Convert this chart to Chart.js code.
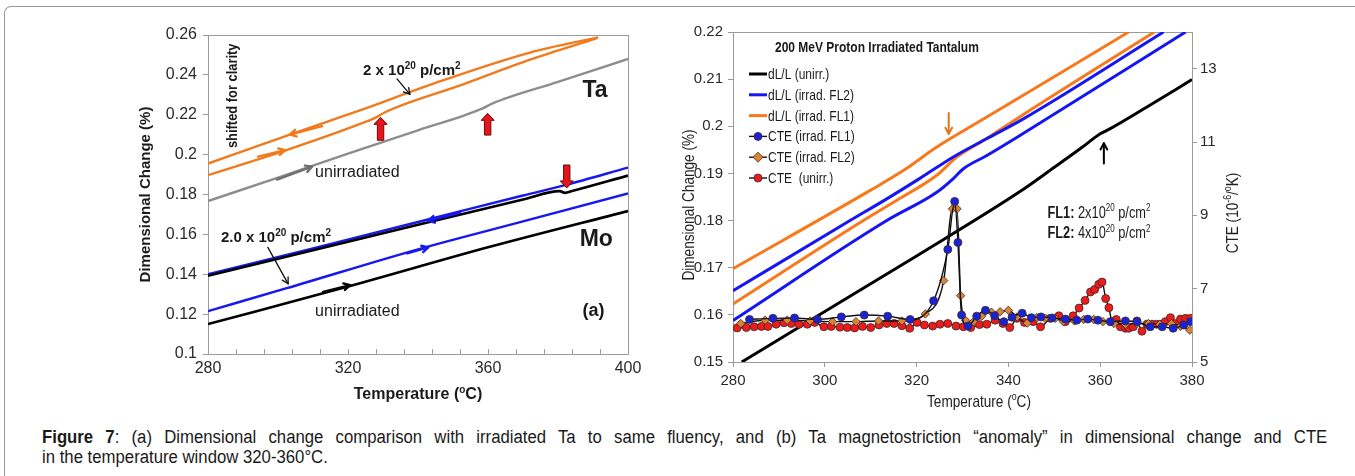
<!DOCTYPE html>
<html>
<head>
<meta charset="utf-8">
<script src="https://cdn.jsdelivr.net/npm/chart.js@4.4.1/dist/chart.umd.min.js"></script>
<style>
  body { margin: 0; width: 1355px; height: 476px; overflow: hidden; background: #fff; position: relative; }
  #frame { position: absolute; left: 4px; top: 6px; width: 1400px; height: 500px; border-top: 1px solid #9a9a9a; border-left: 1px solid #9a9a9a; border-top-left-radius: 7px; }
  #ca { position: absolute; left: 0; top: 0; }
  #cb { position: absolute; left: 660px; top: 0; }
  .cap { position: absolute; left: 42px; font: 18px/20px "Liberation Sans", Arial, sans-serif; color: #1a1a1a; white-space: nowrap; transform: scaleX(0.93); transform-origin: 0 0; }
  #cap1 { top: 427px; width: 1382px; white-space: normal; text-align: justify; text-align-last: justify; }
  #cap2 { top: 447px; }
</style>
</head>
<body>
<div id="frame"></div>
<canvas id="ca" width="660" height="410"></canvas>
<canvas id="cb" width="695" height="410"></canvas>
<div class="cap" id="cap1"><b>Figure 7</b>: (a) Dimensional change comparison with irradiated Ta to same fluency, and (b) Ta magnetostriction “anomaly” in dimensional change and CTE</div>
<div class="cap" id="cap2">in the temperature window 320-360°C.</div>
<script>
// ---- (a) dimensional change (%) vs temperature, Ta and Mo ----
const taIrrCool = [[280,0.1955],[303.4,0.2100],[324.4,0.2228],[343.4,0.2350],[372,0.2512],[391.5,0.2588]];
const taIrrHeat = [[280,0.1897],[302,0.2020],[324.4,0.2160],[328.2,0.2188],[330.3,0.2210],[352.9,0.2352],[372,0.2476],[391,0.2583]];
const taUnirr = [[280,0.1767],[300,0.1885],[320,0.2005],[340,0.2122],[358.5,0.2232],[361,0.2255],[380,0.2365],[400,0.2480]];
const moIrrCool = [[280,0.1400],[310,0.1530],[340,0.1662],[370,0.1795],[382,0.1847],[400,0.1935]];
const moUnirrCool = [[280,0.1392],[310,0.1520],[340,0.1648],[370,0.1775],[380.5,0.1817],[382,0.1808],[384,0.1817],[400,0.1895]];
const moIrrHeat = [[280,0.1215],[302.5,0.1330],[340,0.1525],[370,0.1665],[400,0.1805]];
const moUnirrHeat = [[280,0.1150],[320,0.1338],[360,0.1535],[400,0.1717]];
const tempLabelsA = [280, 320, 360, 400];

// ---- (b) 200 MeV proton irradiated Ta: dL/L (%) and CTE (1e-6/K) ----
const dlUnirr = [[281.9,0.1500],[300,0.1607],[320,0.1725],[342.6,0.1862],[350,0.1913],[356,0.1955],[360,0.1984],[362,0.1994],[370,0.2040],[380,0.2099]];
const dlFl2Up = [[280,0.1651],[305.5,0.1800],[313.5,0.1846],[320.8,0.1890],[328,0.1935],[335.3,0.1974],[342.6,0.2012],[373.8,0.2200]];
const dlFl2Low = [[280,0.1588],[313.5,0.1800],[324.4,0.1860],[328,0.1889],[330.2,0.1910],[335.3,0.1938],[342.6,0.1981],[378.6,0.2200]];
const dlFl1Up = [[280,0.1698],[309.9,0.1864],[317.1,0.1906],[324.4,0.1956],[331.7,0.1999],[342.6,0.2062],[366.2,0.2200]];
const dlFl1Low = [[280,0.1623],[308.4,0.1800],[315.7,0.1843],[324.4,0.1896],[328.8,0.1935],[335.3,0.1974],[342.6,0.2021],[371.8,0.2200]];

const cteFl1 = [[283.6,6.16],[288.7,6.19],[293.4,6.20],[298.4,6.16],[303.6,6.23],[308.6,6.28],[313.7,6.25],[318.6,6.16],
  [323.7,6.67],[326.8,8.07],[328.3,9.38],[329.0,8.26],[329.8,6.28],[331.2,5.98],[333.1,6.25],[335.0,6.41],[337.0,6.26],
  [339.0,6.10],[340.8,6.22],[343.0,6.33],[345.0,6.21],[347.1,6.23],[349.5,6.20],[352.4,6.17],[354.9,6.14],[357.3,6.17],
  [359.5,6.14],[362.2,6.10],[365.5,6.12],[368.0,6.10],[370.9,5.96],[373.5,5.96],[375.9,5.92],[378.2,6.01],[379.7,6.10]];
const cteFl2 = [[281.7,6.05],[287.0,6.14],[291.8,6.14],[296.8,6.12],[301.7,6.10],[306.8,6.10],[311.7,6.12],[316.8,6.12],
  [321.9,6.31],[325.9,7.22],[327.8,9.18],[328.8,9.18],[329.6,6.81],[330.7,6.13],[332.4,6.10],[334.2,6.25],[336.3,6.36],
  [338.2,6.37],[340.0,6.41],[341.9,6.23],[344.1,6.06],[346.2,6.21],[348.0,6.19],[350.2,6.19],[352.0,6.10],[354.4,6.12],
  [356.4,6.16],[358.6,6.16],[360.6,6.10],[363.0,6.05],[365.5,6.03],[368.0,6.05],[370.5,6.05],[373.0,6.03],[375.5,6.05],
  [377.5,5.97],[379.5,5.87]];
const cteUnirr = [[280.9,5.93],[282.9,5.94],[284.6,5.96],[286.2,5.97],[287.6,5.97],[289.4,6.03],[291.1,6.07],[292.7,6.05],
  [294.4,6.03],[296.2,6.03],[297.8,6.08],[299.8,5.96],[301.4,5.97],[303.3,5.95],[304.9,5.94],[306.5,5.93],[308.2,5.97],
  [310.0,5.94],[311.8,6.01],[313.5,6.05],[315.1,6.05],[316.8,5.99],[318.5,5.92],[320.1,6.08],[321.7,6.01],[323.5,5.98],
  [325.1,6.03],[326.8,6.05],[328.6,5.98],[330.2,5.96],[331.8,5.94],[333.7,6.02],[335.3,6.03],[337.1,6.14],[338.8,6.05],
  [340.3,5.94],[341.9,6.19],[343.5,6.08],[345.4,6.10],[347.0,5.96],[349.1,6.19],[351.0,6.26],[352.4,6.10],[354.1,6.26],
  [355.4,6.47],[356.7,6.68],[357.9,6.91],[358.8,6.98],[359.7,7.12],[360.4,7.18],[361.2,6.73],[361.9,6.48],[362.6,6.10],
  [363.5,6.16],[364.4,5.96],[365.5,5.92],[366.2,5.92],[367.2,5.96],[368.0,6.12],[369.1,5.84],[370.2,6.03],[371.3,6.03],
  [372.3,6.03],[373.3,6.03],[374.2,6.10],[375.3,6.21],[376.4,6.05],[377.5,6.17],[378.6,6.19],[379.7,6.19]];
const cteTicks = [5, 7, 9, 11, 13];
const legendLabels = ['dL/L (unirr.)', 'dL/L (irrad. FL2)', 'dL/L (irrad. FL1)', 'CTE (irrad. FL1)', 'CTE (irrad. FL2)', 'CTE  (unirr.)'];

const fam = '"Liberation Sans", Arial, sans-serif';
Chart.defaults.font.family = fam;
Chart.defaults.color = '#2a2a2a';

const pts = a => a.map(([x, y]) => ({x, y}));
const fmt = v => String(+(+v).toFixed(2));

function lineDs(arr, color, w, extra) {
  return Object.assign({data: pts(arr), borderColor: color, borderWidth: w, pointRadius: 0,
    cubicInterpolationMode: 'monotone', fill: false}, extra || {});
}

// text with ^superscript and *bold parts; sx < 1 squeezes it like a narrow face
function rich(ctx, parts, x, y, size, sx, bold, align, color) {
  const segs = parts.map(p => {
    let t = p, b = bold, sup = false;
    if (t[0] === '*') { b = true; t = t.slice(1); }
    if (t[0] === '^') { sup = true; t = t.slice(1); }
    const font = (b ? 'bold ' : '') + (sup ? Math.round(size * 0.64) : size) + 'px ' + fam;
    ctx.font = font;
    return {t, sup, font, w: ctx.measureText(t).width};
  });
  const total = segs.reduce((s, g) => s + g.w, 0);
  let cx = align === 'center' ? -total / 2 : align === 'right' ? -total : 0;
  ctx.save();
  ctx.translate(x, y);
  ctx.scale(sx, 1);
  ctx.fillStyle = color || '#1a1a1a';
  ctx.textAlign = 'left';
  ctx.textBaseline = 'alphabetic';
  segs.forEach(g => {
    ctx.font = g.font;
    ctx.fillText(g.t, cx, g.sup ? -size * 0.4 : 0);
    cx += g.w;
  });
  ctx.restore();
}
function richRot(ctx, parts, cx, cy, size, sx, bold, color) {
  ctx.save();
  ctx.translate(cx, cy);
  ctx.rotate(-Math.PI / 2);
  rich(ctx, parts, 0, size * 0.36, size, sx, bold, 'center', color);
  ctx.restore();
}
function arrow(ctx, x1, y1, x2, y2, color, lw, head) {
  const ang = Math.atan2(y2 - y1, x2 - x1);
  ctx.save();
  ctx.strokeStyle = color; ctx.lineWidth = lw; ctx.lineCap = 'round'; ctx.lineJoin = 'round';
  ctx.beginPath(); ctx.moveTo(x1, y1); ctx.lineTo(x2, y2); ctx.stroke();
  ctx.beginPath();
  ctx.moveTo(x2 - head * Math.cos(ang - 0.5), y2 - head * Math.sin(ang - 0.5));
  ctx.lineTo(x2, y2);
  ctx.lineTo(x2 - head * Math.cos(ang + 0.5), y2 - head * Math.sin(ang + 0.5));
  ctx.stroke();
  ctx.restore();
}
function blockArrow(ctx, x, yTail, yTip) {
  const d = Math.sign(yTip - yTail), sw = 3.2, hw = 6.5, hl = 7;
  ctx.save();
  ctx.beginPath();
  ctx.moveTo(x - sw, yTail); ctx.lineTo(x + sw, yTail); ctx.lineTo(x + sw, yTip - d * hl);
  ctx.lineTo(x + hw, yTip - d * hl); ctx.lineTo(x, yTip); ctx.lineTo(x - hw, yTip - d * hl);
  ctx.lineTo(x - sw, yTip - d * hl); ctx.closePath();
  ctx.fillStyle = '#e8141c'; ctx.fill();
  ctx.strokeStyle = '#6a0a0a'; ctx.lineWidth = 1; ctx.stroke();
  ctx.restore();
}

const orA = '#f07a1c', blA = '#1717ee', grA = '#8d8d8d';

// annotations of panel (a), placed in data coordinates
const notesA = [
  {t: ['shifted for clarity'], at: [286.9, 0.2295], size: 14, bold: true, rot: true},
  {t: ['2 x 10', '^20', ' p/cm', '^2'], at: [324.3, 0.2400], size: 15, bold: true},
  {t: ['Ta'], at: [387.0, 0.2290], size: 23, bold: true},
  {t: ['unirradiated'], at: [310.6, 0.1890], size: 16},
  {t: ['2.0 x 10', '^20', ' p/cm', '^2'], at: [283.7, 0.1560], size: 15, bold: true},
  {t: ['Mo'], at: [386.2, 0.1540], size: 23, bold: true},
  {t: ['unirradiated'], at: [310.6, 0.1190], size: 16},
  {t: ['(a)'], at: [387.0, 0.1190], size: 18, bold: true}
];
const dirArrowsA = [
  [312.6, 0.2143, 303.4, 0.2100, orA],
  [294.3, 0.1990, 302.0, 0.2022, orA],
  [299.7, 0.1875, 309.7, 0.1940, '#6f6f6f'],
  [352.0, 0.1708, 342.9, 0.1668, blA],
  [336.9, 0.1505, 342.9, 0.1535, blA],
  [312.9, 0.1312, 320.6, 0.1345, '#000']
];
const pointerArrowsA = [[334.0, 0.2380, 337.7, 0.2302], [297.1, 0.1535, 302.9, 0.1352]];
const redArrowsA = [[329.3, 0.2072, 0.2187], [359.9, 0.2098, 0.2207], [382.5, 0.1948, 0.1833]];

const decorA = {
  id: 'decorA',
  beforeDatasetsDraw(chart) {
    const {ctx, chartArea: a, scales: {x}} = chart;
    ctx.save();
    ctx.strokeStyle = '#9a9a9a'; ctx.lineWidth = 1;
    ctx.strokeRect(Math.round(a.left) + 0.5, Math.round(a.top) + 0.5, Math.round(a.width), Math.round(a.height));
    x.ticks.forEach(t => {
      const px = Math.round(x.getPixelForValue(t.value)) + 0.5;
      ctx.beginPath(); ctx.moveTo(px, a.bottom); ctx.lineTo(px, a.bottom - 5); ctx.stroke();
    });
    ctx.restore();
  },
  afterDatasetsDraw(chart) {
    const {ctx, scales: {x, y}, chartArea: a} = chart;
    const X = v => x.getPixelForValue(v), Y = v => y.getPixelForValue(v);
    dirArrowsA.forEach(([t1, v1, t2, v2, c]) => arrow(ctx, X(t1), Y(v1), X(t2), Y(v2), c, 2.4, 7));
    pointerArrowsA.forEach(([t1, v1, t2, v2]) => arrow(ctx, X(t1), Y(v1), X(t2), Y(v2), '#111', 1.3, 7));
    redArrowsA.forEach(([t, v1, v2]) => blockArrow(ctx, X(t), Y(v1), Y(v2)));
    notesA.forEach(n => {
      if (n.rot) richRot(ctx, n.t, X(n.at[0]), Y(n.at[1]), n.size, 0.92, n.bold, '#1a1a1a');
      else rich(ctx, n.t, X(n.at[0]), Y(n.at[1]), n.size, 1, n.bold, 'left', '#1a1a1a');
    });
    richRot(ctx, ['Dimensional Change (%)'], 145, (a.top + a.bottom) / 2, 15, 1, true, '#1a1a1a');
    rich(ctx, ['Temperature (', '^o', 'C)'], (a.left + a.right) / 2, 399, 16, 1, true, 'center', '#1a1a1a');
  }
};

new Chart(document.getElementById('ca'), {
  type: 'line',
  data: {datasets: [
    lineDs(moUnirrHeat, '#000', 2.6), lineDs(moIrrHeat, blA, 2.4),
    lineDs(moUnirrCool, '#000', 2.6), lineDs(moIrrCool, blA, 2.4),
    lineDs(taUnirr, grA, 2.4), lineDs(taIrrHeat, orA, 2.4), lineDs(taIrrCool, orA, 2.4)
  ]},
  options: {
    responsive: false, animation: false, devicePixelRatio: 1,
    layout: {padding: {left: 0, right: 32, top: 35, bottom: 0}},
    plugins: {legend: {display: false}, tooltip: {enabled: false}},
    scales: {
      x: {type: 'linear', min: 280, max: 400,
        ticks: {stepSize: 8, autoSkip: false, maxRotation: 0, padding: 5, color: '#2a2a2a', font: {size: 16},
          callback: v => tempLabelsA.includes(v) ? String(v) : ''},
        grid: {display: false, drawTicks: false}, border: {display: false},
        afterFit: s => { s.height = 56; }},
      y: {min: 0.1, max: 0.26,
        ticks: {stepSize: 0.02, padding: 6, color: '#2a2a2a', font: {size: 16}, callback: fmt},
        grid: {drawOnChartArea: false, tickLength: 5, color: '#9a9a9a'}, border: {display: false},
        afterFit: s => { s.width = 208; }}
    }
  },
  plugins: [decorA]
});

// ---- panel (b) ----
const orB = '#f8791c', blB = '#1616f2', NX = 0.8;
const cteDs = (arr, fillc, style) => ({data: pts(arr), yAxisID: 'y2', borderColor: '#111', borderWidth: 1.4,
  pointRadius: 4, pointStyle: style, pointBackgroundColor: fillc, pointBorderColor: '#3a2a2a', pointBorderWidth: 0.8,
  cubicInterpolationMode: 'monotone', fill: false, order: 0});

const decorB = {
  id: 'decorB',
  beforeDatasetsDraw(chart) {
    const {ctx, chartArea: a} = chart;
    ctx.save();
    ctx.strokeStyle = '#9a9a9a'; ctx.lineWidth = 1;
    ctx.strokeRect(Math.round(a.left) + 0.5, Math.round(a.top) + 0.5, Math.round(a.width), Math.round(a.height));
    ctx.restore();
  },
  afterDatasetsDraw(chart) {
    const {ctx, scales: {x, y}, chartArea: a} = chart;
    const X = v => x.getPixelForValue(v), Y = v => y.getPixelForValue(v);
    rich(ctx, ['200 MeV Proton Irradiated Tantalum'], a.left + 42, a.top + 20, 15, NX, true, 'left', '#1a1a1a');
    // legend, built from the labelled datasets
    const shown = chart.data.datasets.filter(d => d.label);
    shown.forEach((d, i) => {
      const cy = a.top + 42 + i * 20.8, x0 = a.left + 16, x1 = a.left + 34;
      ctx.save();
      ctx.strokeStyle = d.borderColor; ctx.lineWidth = d.pointRadius ? 1.4 : 3;
      ctx.beginPath(); ctx.moveTo(x0, cy); ctx.lineTo(x1, cy); ctx.stroke();
      if (d.pointRadius) {
        const mx = (x0 + x1) / 2, r = d.pointRadius;
        ctx.beginPath();
        if (d.pointStyle === 'rectRot') { ctx.moveTo(mx, cy - r * 1.2); ctx.lineTo(mx + r * 1.2, cy); ctx.lineTo(mx, cy + r * 1.2); ctx.lineTo(mx - r * 1.2, cy); ctx.closePath(); }
        else ctx.arc(mx, cy, r, 0, Math.PI * 2);
        ctx.fillStyle = d.pointBackgroundColor; ctx.fill();
        ctx.strokeStyle = d.pointBorderColor; ctx.lineWidth = 0.8; ctx.stroke();
      }
      ctx.restore();
      rich(ctx, [d.label], x1 + 1, cy + 5, 15, NX, false, 'left', '#1a1a1a');
    });
    rich(ctx, ['*FL1:', ' 2x10', '^20', ' p/cm', '^2'], X(348.5), Y(0.1806), 16, NX, false, 'left', '#1a1a1a');
    rich(ctx, ['*FL2:', ' 4x10', '^20', ' p/cm', '^2'], X(348.5), Y(0.1762), 16, NX, false, 'left', '#1a1a1a');
    arrow(ctx, X(327.0), Y(0.2028), X(327.0), Y(0.1984), '#e0761c', 2, 7);
    arrow(ctx, X(360.8), Y(0.1921), X(360.8), Y(0.1964), '#000', 2, 7);
    richRot(ctx, ['Dimensional Change (%)'], 28, 205, 17, NX, false, '#222');
    rich(ctx, ['Temperature (', '^o', 'C)'], 319, 407, 17, NX, false, 'center', '#222');
    richRot(ctx, ['CTE (10', '^-6', '/', '^o', 'K)'], 572, 213, 17, NX, false, '#222');
  }
};

new Chart(document.getElementById('cb'), {
  type: 'line',
  data: {datasets: [
    lineDs(dlUnirr, '#000', 3, {label: legendLabels[0], order: 1}),
    lineDs(dlFl2Up, blB, 3, {label: legendLabels[1], order: 1}),
    lineDs(dlFl1Up, orB, 3, {label: legendLabels[2], order: 1}),
    Object.assign(cteDs(cteFl1, '#1a22d6', 'circle'), {label: legendLabels[3]}),
    Object.assign(cteDs(cteFl2, '#dc8431', 'rectRot'), {label: legendLabels[4], pointRadius: 4.2}),
    Object.assign(cteDs(cteUnirr, '#ee1b1b', 'circle'), {label: legendLabels[5]}),
    lineDs(dlFl2Low, blB, 3, {order: 1}),
    lineDs(dlFl1Low, orB, 3, {order: 1})
  ]},
  options: {
    responsive: false, animation: false, devicePixelRatio: 1,
    layout: {padding: {left: 0, right: 103, top: 32, bottom: 0}},
    plugins: {legend: {display: false}, tooltip: {enabled: false}},
    scales: {
      x: {type: 'linear', min: 280, max: 380,
        ticks: {stepSize: 20, maxRotation: 0, padding: 5, color: '#2a2a2a', font: {size: 15}},
        grid: {drawOnChartArea: false, tickLength: 5, color: '#9a9a9a'}, border: {display: false},
        afterFit: s => { s.height = 48; }},
      y: {min: 0.15, max: 0.22,
        ticks: {stepSize: 0.01, padding: 5, color: '#2a2a2a', font: {size: 15}, callback: fmt},
        grid: {drawOnChartArea: false, tickLength: 5, color: '#9a9a9a'}, border: {display: false},
        afterFit: s => { s.width = 73; }},
      y2: {position: 'right', min: 5, max: 14,
        afterBuildTicks: s => { s.ticks = cteTicks.map(v => ({value: v})); },
        ticks: {padding: 3, color: '#2a2a2a', font: {size: 15}},
        grid: {drawOnChartArea: false, tickLength: 5, color: '#9a9a9a'}, border: {display: false},
        afterFit: s => { s.width = 60; }}
    }
  },
  plugins: [decorB]
});
</script>
</body>
</html>
